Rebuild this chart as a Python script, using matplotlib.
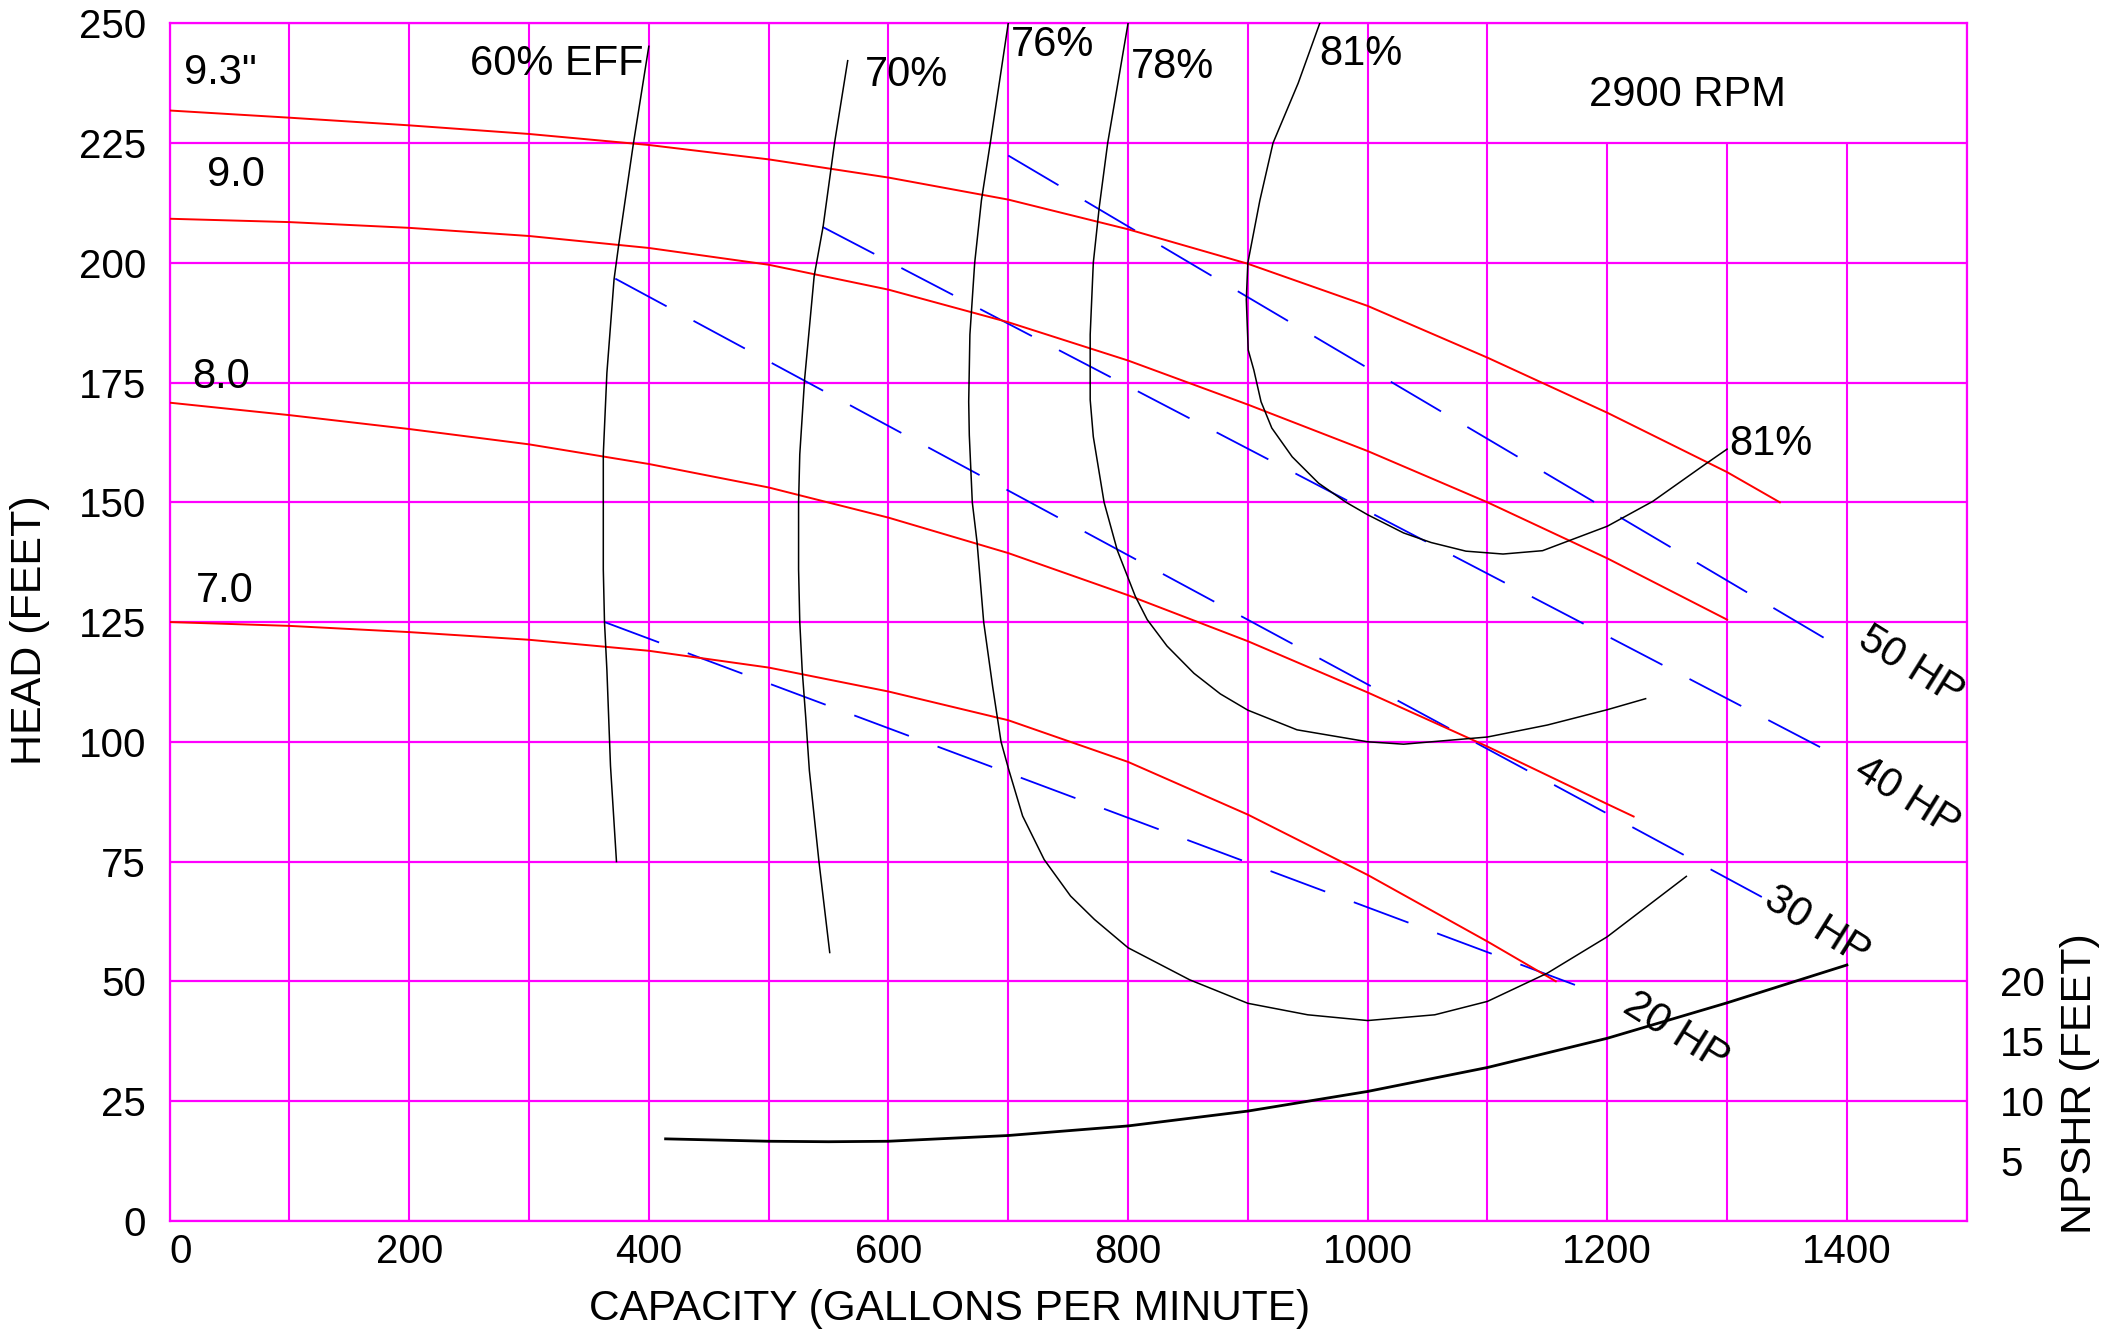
import matplotlib
matplotlib.use("Agg")
import matplotlib.pyplot as plt
import numpy as np

plt.rcParams['font.family'] = ['Liberation Sans', 'DejaVu Sans']
plt.rcParams['font.size'] = 30
plt.rcParams['lines.scale_dashes'] = False

# impeller diameter curves: capacity (gpm) vs head (ft)
q_93 = [0, 100, 200, 300, 400, 500, 600, 700, 800, 900, 1000, 1100, 1200, 1300, 1344]
h_93 = [231.8, 230.3, 228.7, 226.9, 224.6, 221.6, 217.8, 213.2, 207.0, 199.8, 191.0, 180.2, 168.7, 156.3, 150.0]
q_90 = [0, 100, 200, 300, 400, 500, 600, 700, 800, 900, 1000, 1100, 1200, 1300]
h_90 = [209.2, 208.5, 207.3, 205.6, 203.1, 199.6, 194.4, 187.6, 179.6, 170.4, 160.7, 150.0, 138.3, 125.5]
q_80 = [0, 100, 200, 300, 400, 500, 600, 700, 800, 900, 1000, 1100, 1200, 1222]
h_80 = [170.8, 168.2, 165.3, 162.1, 158.0, 153.1, 146.8, 139.4, 130.6, 121.0, 110.3, 99.0, 87.0, 84.4]
q_70 = [0, 100, 200, 300, 400, 500, 600, 700, 800, 900, 1000, 1100, 1157]
h_70 = [125.0, 124.2, 122.9, 121.3, 119.0, 115.5, 110.5, 104.5, 95.8, 84.8, 72.2, 58.3, 50.0]

# efficiency curves
eff60_q = [400, 387, 375, 371, 365, 362, 362, 362, 363, 365, 368, 373]
eff60_h = [245.2, 224.7, 204.0, 196.6, 177.0, 160.0, 150.0, 136.0, 125.0, 115.0, 95.0, 75.0]
eff70_q = [566, 555, 545.5, 538, 530, 526, 525, 525, 526, 528, 531, 534, 542, 551]
eff70_h = [242.2, 225, 207.6, 197.2, 175.6, 160, 150, 136, 125, 115, 105, 94, 75, 56]
eff76_q = [700, 685, 677.6, 672, 668, 667, 667.5, 670, 674, 679.5, 687, 694, 700.4, 712, 730, 752,
           772, 800, 851.5, 900, 950, 1000, 1056, 1100, 1150, 1200, 1266]
eff76_h = [250, 225, 213, 200, 185, 171, 164, 150, 141.6, 125, 111.5, 100, 94.2, 84.5, 75.4, 67.8,
           62.9, 57, 50.3, 45.4, 43, 41.8, 43, 45.8, 51.7, 59.3, 71.9]
eff78_q = [800, 783, 776, 771, 768.4, 768.4, 771, 780, 791, 806, 816, 832.5, 855, 877, 900, 941,
           1000, 1030, 1100, 1150, 1200, 1232]
eff78_h = [250, 225, 211.7, 200, 185, 171.4, 163.7, 150, 140, 130.4, 125.5, 120, 114.3, 110, 106.6, 102.5,
           100, 99.5, 101, 103.5, 106.7, 109]
eff81_q = [960, 942, 921, 910, 902, 900, 898.7, 900.3, 905, 911, 920, 937, 959, 982,
           1000, 1030, 1053, 1082, 1113, 1146, 1200, 1238, 1281.5, 1300]
eff81_h = [250, 237.5, 225, 213, 202.6, 200, 192.3, 181.8, 177.6, 171, 165.5, 159.5, 154, 150,
           147.4, 143.6, 141.6, 139.8, 139.2, 139.9, 145, 150.2, 157.9, 161.1]

# horsepower lines (start / end points)
hp_names = ['20 HP', '30 HP', '40 HP', '50 HP']
hp_q = [[363, 1181], [372, 1329], [545, 1386], [700, 1387]]
hp_h = [[125, 48.5], [196.7, 67.6], [207.5, 97.8], [222.4, 120.8]]

# NPSHR curve (feet, right axis)
npshr_q = [414, 500, 550, 600, 700, 800, 900, 1000, 1100, 1200, 1300, 1400]
npshr_ft = [6.84, 6.64, 6.6, 6.64, 7.12, 7.92, 9.16, 10.8, 12.8, 15.24, 18.2, 21.36]

x_ticks = list(range(0, 1401, 200))
y_ticks = list(range(0, 251, 25))
npshr_ticks = [5, 10, 15, 20]

fig = plt.figure(figsize=(21.12, 13.33), dpi=100)
ax = fig.add_axes([0.0803, 0.0842, 0.8509, 0.8983])
ax.set_xlim(0, 1500)
ax.set_ylim(0, 250)

mag = '#FF00FF'
ax.hlines(y_ticks, 0, 1500, colors=mag, lw=1.6, zorder=1)
for xv in range(0, 1501, 100):
    top = 225 if xv in (1200, 1300, 1400) else 250
    ax.vlines(xv, 0, top, colors=mag, lw=1.5, zorder=1)
for s in ax.spines.values():
    s.set_color(mag)
    s.set_linewidth(1.6)

red = '#FF0000'
for q, h in [(q_93, h_93), (q_90, h_90), (q_80, h_80), (q_70, h_70)]:
    ax.plot(q, h, color=red, lw=1.4, zorder=3)

for q, h in [(eff60_q, eff60_h), (eff70_q, eff70_h), (eff76_q, eff76_h),
             (eff78_q, eff78_h), (eff81_q, eff81_h)]:
    ax.plot(q, h, color='black', lw=1.1, zorder=3)

for q, h in zip(hp_q, hp_h):
    ax.plot(q, h, color='#0000FF', lw=1.3, dashes=(42, 22), zorder=2)

# labels
ax.text(12, 237.3, '9.3"', ha='left', va='baseline')
ax.text(31, 216.1, '9.0', ha='left', va='baseline')
ax.text(19, 173.8, '8.0', ha='left', va='baseline')
ax.text(22, 129.1, '7.0', ha='left', va='baseline')
ax.text(251, 239.2, '60% EFF', ha='left', va='baseline')
ax.text(580, 236.9, '70%', ha='left', va='baseline')
ax.text(702, 243.2, '76%', ha='left', va='baseline')
ax.text(802, 238.5, '78%', ha='left', va='baseline')
ax.text(960, 241.3, '81%', ha='left', va='baseline')
ax.text(1302, 159.9, '81%', ha='left', va='baseline')
ax.text(1267, 232.8, '2900 RPM', ha='center', va='baseline')

hp_pos = [(1257, 39.3), (1375, 61.5), (1450, 88.4), (1453.5, 115.8)]
for name, (px, py) in zip(hp_names, hp_pos):
    ax.text(px, py, name, rotation=-32, rotation_mode='anchor', ha='center', va='center')

ax.set_xticks(x_ticks)
ax.set_yticks(y_ticks)
ax.tick_params(length=0, labelsize=29)
ax.tick_params(axis='x', pad=9)
ax.tick_params(axis='y', pad=17)
ax.get_xticklabels()[0].set_ha('left')

ax.set_xlabel('CAPACITY (GALLONS PER MINUTE)', va='center', fontsize=30.5)
ax.xaxis.set_label_coords(0.434, -0.074)
ax.set_ylabel('HEAD (FEET)', va='center', fontsize=31)
ax.yaxis.set_label_coords(-0.0779, 0.493)

ax2 = ax.twinx()
ax2.set_ylim(0, 100)
ax2.set_yticks(npshr_ticks)
ax2.tick_params(length=0, pad=24, labelsize=29)
for s in ax2.spines.values():
    s.set_visible(False)
ax2.plot(npshr_q, npshr_ft, color='black', lw=2.0, zorder=4)
ax2.set_ylabel('NPSHR (FEET)', va='center', rotation=90, fontsize=31)
ax2.yaxis.set_label_coords(1.063, 0.1144)

fig.savefig('out.png', dpi=100, facecolor='white')
